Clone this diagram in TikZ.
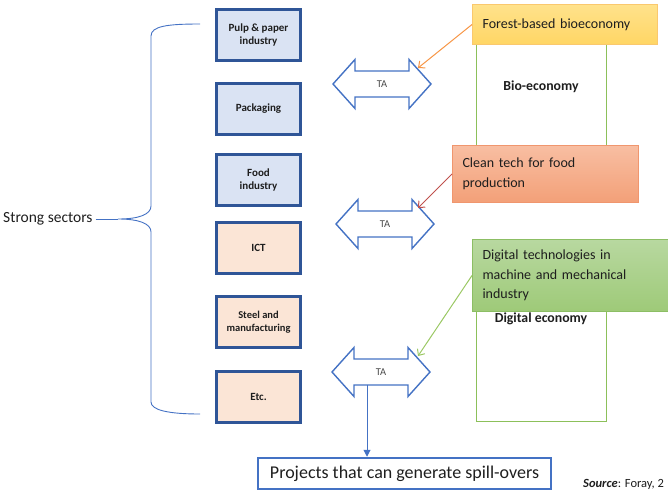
\documentclass[tikz,border=0pt]{standalone}
\usepackage{fontspec}
\setmainfont{Carlito}
\usetikzlibrary{arrows.meta,calc}
\definecolor{boxline}{RGB}{47,85,151}
\definecolor{bluefill}{RGB}{218,227,243}
\definecolor{peachfill}{RGB}{251,229,214}
\definecolor{arrowblue}{RGB}{68,114,196}
\definecolor{econgreen}{RGB}{140,192,90}
\definecolor{txt}{RGB}{30,30,30}
\definecolor{forestline}{RGB}{250,200,110}
\definecolor{foresttop}{RGB}{255,226,140}
\definecolor{forestbot}{RGB}{255,214,100}
\definecolor{cleanline}{RGB}{240,150,110}
\definecolor{cleantop}{RGB}{248,190,162}
\definecolor{cleanbot}{RGB}{243,160,120}
\definecolor{digline}{RGB}{140,190,100}
\definecolor{digtop}{RGB}{184,216,160}
\definecolor{digbot}{RGB}{158,202,120}
\definecolor{orangeln}{RGB}{247,150,70}
\definecolor{redln}{RGB}{192,80,77}
\definecolor{greenln}{RGB}{155,200,100}
\begin{document}
\begin{tikzpicture}[x=1pt,y=-1pt,
  sector/.style={draw=boxline, line width=3pt, minimum width=84pt, minimum height=51pt,
    align=center, font=\fontsize{11}{13}\selectfont\bfseries, text=txt, inner sep=1pt},
  taline/.style={draw=arrowblue, line width=1.4pt, fill=white, line join=miter},
  talabel/.style={font=\fontsize{10.5}{12}\selectfont, text=txt!80, inner sep=0pt},
  econrect/.style={draw=econgreen, line width=1pt},
  econlabel/.style={font=\fontsize{13.8}{16}\selectfont\bfseries, text=txt},
  callout/.style={anchor=north west, align=left, inner xsep=10pt, inner ysep=2pt,
    font=\fontsize{14}{19.5}\selectfont, text=txt, line width=1pt},
  leader/.style={line width=1pt, -{Straight Barb[length=5pt,width=9pt]}},
  taarrow/.pic={\draw[taline] (-49,0) -- ++(22,-24.5) -- ++(0,11.5) -- ++(54,0) -- ++(0,-11.5)
     -- ++(22,24.5) -- ++(-22,24.5) -- ++(0,-11.5) -- ++(-54,0) -- ++(0,11.5) -- cycle;}
]
\useasboundingbox (0,0) rectangle (668,492);
\clip (0,0) rectangle (668,492);

% economy rectangles
\draw[econrect] (476,30) rectangle (606,160);
\node[econlabel] (bio) at (541,87) {Bio-economy};
\draw[econrect] (476,270) rectangle (606,421);
\node[econlabel] (dig) at (541,319) {Digital economy};

% callout boxes
\node[callout, draw=forestline, top color=foresttop, bottom color=forestbot,
  minimum width=185pt, minimum height=40pt, text width=165pt] (forest) at (472,4)
  {Forest-based bioeconomy};
\node[callout, draw=cleanline, top color=cleantop, bottom color=cleanbot,
  minimum width=186pt, minimum height=57pt, text width=166pt] (clean) at (452,145)
  {Clean tech for food\\production};
\node[callout, draw=digline, top color=digtop, bottom color=digbot,
  minimum width=215pt, minimum height=72pt, text width=195pt] (digital) at (472,239)
  {Digital technologies in\\machine and mechanical\\industry};

% sector boxes
\node[sector, fill=bluefill] (s1) at (258.5,35.5) {Pulp \& paper\\industry};
\node[sector, fill=bluefill] (s2) at (258.5,109) {Packaging};
\node[sector, fill=bluefill] (s3) at (258.5,180) {Food\\industry};
\node[sector, fill=peachfill] (s4) at (258.5,248) {ICT};
\node[sector, fill=peachfill, font=\fontsize{10.5}{12.5}\selectfont\bfseries] (s5) at (258.5,322) {Steel and\\manufacturing};
\node[sector, fill=peachfill] (s6) at (258.5,397) {Etc.};

% brace
\node[anchor=west, font=\fontsize{15.5}{18}\selectfont, text=txt, inner sep=0pt] (strong) at (3,219) {Strong sectors};
\coordinate (tip) at (118,219);
\coordinate (btop) at (200,24);
\coordinate (bbot) at (200,414);
\draw[arrowblue, line width=0.9pt] (btop) .. controls (168,24) and (151,26) .. (151,36) -- (151,206)
  .. controls (151,214) and (140,219) .. (tip)
  .. controls (140,219) and (151,224) .. (151,232) -- (151,402)
  .. controls (151,410) and (168,414) .. (bbot);
\draw[arrowblue, line width=0.9pt] ([xshift=3pt]strong.east) -- (tip);

% TA double arrows
\pic at (382,84) {taarrow};
\node[talabel] (ta1) at (382,84) {TA};
\pic at (385,224) {taarrow};
\node[talabel] (ta2) at (385,224) {TA};
\pic at (381,372) {taarrow};
\node[talabel] (ta3) at (381,372) {TA};

\coordinate (h1) at ($(ta1)+(36,-16)$);
\coordinate (h2) at ($(ta2)+(33,-16)$);
\coordinate (h3) at ($(ta3)+(37,-16)$);

\draw[leader, orangeln] (forest.west) -- (h1);
\draw[leader, redln] (clean.west) -- (h2);
\draw[leader, greenln] (digital.west) -- (h3);

% projects
\node[draw=arrowblue, line width=2.5pt, minimum width=293pt, minimum height=31pt,
  font=\fontsize{18}{21}\selectfont, text=txt, inner sep=0pt] (proj) at (404.5,473.5)
  {Projects that can generate spill-overs};
\coordinate (ta3b) at ($(ta3)+(-14,12.5)$);
\draw[arrowblue, line width=1pt, -{Triangle[length=7pt,width=7pt]}] (ta3b) -- (ta3b |- proj.north);

% source
\node[anchor=base west, font=\fontsize{12.5}{14}\selectfont, text=txt, inner sep=0pt] (src) at (583,487)
  {\textbf{\textit{Source}}: Foray, 2};
\end{tikzpicture}
\end{document}
